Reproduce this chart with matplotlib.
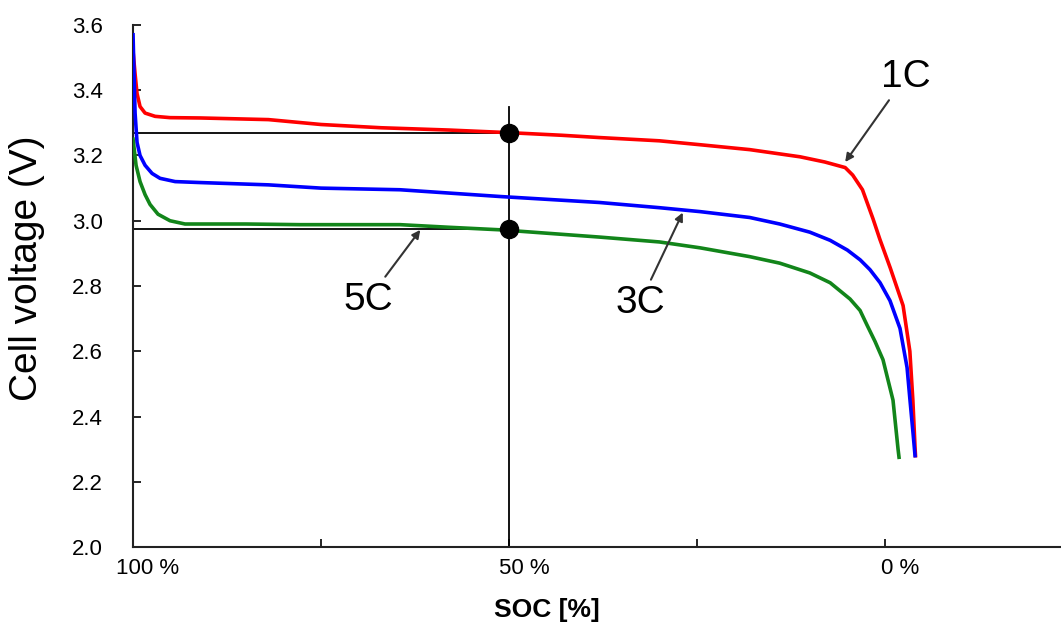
import matplotlib
matplotlib.use("Agg")
import matplotlib.pyplot as plt
import matplotlib.transforms as mtransforms

plt.rcParams['font.family'] = ['Liberation Sans', 'DejaVu Sans']

# discharge curves: state of charge (%) vs cell voltage (V)
soc_1c = [100, 99.73, 99.47, 99.07, 98.4, 97.07, 95.08, 91, 82, 75, 67, 58, 50,
          43, 38, 30, 24.6, 18, 11.3, 8, 5.3, 4.3, 3.0, 1.6, 0.7, -0.7, -2.4,
          -3.3, -3.7, -4.0, -4.05]
v_1c = [3.52, 3.45, 3.39, 3.35, 3.33, 3.32, 3.316, 3.315, 3.31, 3.295, 3.285,
        3.278, 3.27, 3.262, 3.255, 3.245, 3.233, 3.218, 3.196, 3.18, 3.163, 3.14,
        3.095, 3.006, 2.944, 2.855, 2.74, 2.60, 2.45, 2.30, 2.28]

soc_3c = [100, 99.87, 99.73, 99.47, 99.07, 98.4, 97.47, 96.41, 94.4, 91, 82, 75,
          64.5, 51, 38, 30, 24.6, 18, 14, 10, 7.3, 5, 3.3, 2, 0.66, -0.66, -1.99,
          -2.93, -3.32, -3.72, -3.99]
v_3c = [3.57, 3.45, 3.33, 3.24, 3.20, 3.17, 3.145, 3.13, 3.12, 3.117, 3.11, 3.10,
        3.095, 3.074, 3.056, 3.04, 3.028, 3.01, 2.99, 2.965, 2.94, 2.91, 2.88,
        2.85, 2.81, 2.755, 2.67, 2.55, 2.45, 2.35, 2.28]

soc_5c = [100, 99.6, 99.07, 98.4, 97.74, 96.68, 95.08, 93.09, 85, 77.8, 64.5, 58,
          51, 38, 30, 24.6, 18, 14, 10, 7.3, 4.65, 3.32, 2.39, 1.33, 0.27, -1.06,
          -1.73, -1.86]
v_5c = [3.25, 3.17, 3.12, 3.08, 3.05, 3.02, 3.0, 2.99, 2.99, 2.988, 2.988, 2.98,
        2.972, 2.95, 2.935, 2.917, 2.89, 2.87, 2.84, 2.81, 2.76, 2.725, 2.68,
        2.63, 2.574, 2.45, 2.30, 2.275]

# reference markers at 50 % SOC
ref_soc = 50
ref_v = [3.27, 2.975]
ref_top = 3.35

x_ticks = [100, 75, 50, 25, 0]
x_labels = ['100 %', '', '50 %', '', '0 %']
y_ticks = [2.0, 2.2, 2.4, 2.6, 2.8, 3.0, 3.2, 3.4, 3.6]

# rate labels: (text, arrow tip, text position)
rate_labels = [
    ('1C', (5.3, 3.18), (-2.7, 3.44)),
    ('3C', (26.9, 3.025), (32.6, 2.748)),
    ('5C', (61.8, 2.972), (68.75, 2.758)),
]

fig = plt.figure(figsize=(10.61, 6.31), dpi=100)
ax = fig.add_axes([0.1254, 0.1331, 0.8746, 0.8273])

# reference lines and points
for v in ref_v:
    ax.plot([100, ref_soc], [v, v], color='black', lw=1.3, zorder=2)
ax.plot([ref_soc, ref_soc], [2.0, ref_top], color='black', lw=1.3, zorder=2)

ax.plot(soc_1c, v_1c, color='#ff0000', lw=2.6, zorder=3)
ax.plot(soc_3c, v_3c, color='#0000ff', lw=2.6, zorder=3)
ax.plot(soc_5c, v_5c, color='#12851a', lw=2.6, zorder=3)

ax.plot([ref_soc] * len(ref_v), ref_v, 'o', color='black', ms=13, zorder=4)

for txt, tip, pos in rate_labels:
    ax.annotate(txt, xy=tip, xytext=pos, ha='center', va='center', fontsize=28,
                arrowprops=dict(arrowstyle='-|>', color='#333333', lw=1.5,
                                mutation_scale=12, shrinkA=2, shrinkB=0))

ax.set_xlim(100, -23.4)
ax.set_ylim(2.0, 3.6)
ax.set_xticks(x_ticks)
ax.set_xticklabels(x_labels)
ax.set_yticks(y_ticks)
ax.set_yticklabels([f'{y:.1f}' for y in y_ticks])
ax.tick_params(axis='both', direction='in', length=6, width=1.2, labelsize=16)
ax.tick_params(axis='y', pad=22)
ax.tick_params(axis='x', pad=8)

# shift x tick labels slightly to the right like the original
offset = mtransforms.ScaledTranslation(15 / 100, 0, fig.dpi_scale_trans)
for lbl in ax.get_xticklabels():
    lbl.set_transform(lbl.get_transform() + offset)

for side in ['top', 'right']:
    ax.spines[side].set_visible(False)
for side in ['left', 'bottom']:
    ax.spines[side].set_linewidth(1.5)
    ax.spines[side].set_color('#222222')

ax.set_ylabel('Cell voltage (V)', fontsize=28)
ax.yaxis.set_label_coords(-0.095, 0.534)
ax.set_xlabel('SOC [%]', fontsize=19, fontweight='bold')
ax.xaxis.set_label_coords(0.446, -0.098)

fig.savefig('out.png', dpi=100)
